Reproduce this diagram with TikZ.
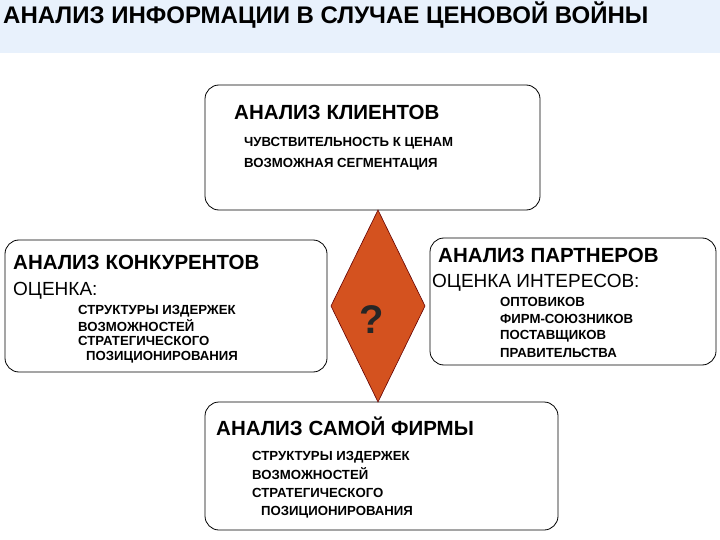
\documentclass[tikz,border=0pt]{standalone}
\usepackage{fontspec}
\setmainfont{Liberation Sans}
\definecolor{band}{HTML}{E8F1FC}
\definecolor{dia}{HTML}{D4521F}
\tikzset{
 box/.style={draw=black,line width=0.8pt,rounded corners=14pt,fill=white},
 head/.style={anchor=west,inner sep=0pt,font=\bfseries\fontsize{20.5}{20.5}\selectfont},
 sub/.style={anchor=west,inner sep=0pt,font=\fontsize{19}{19}\selectfont},
 item/.style={anchor=west,inner sep=0pt,font=\bfseries\fontsize{13.2}{13.2}\selectfont},
}
\begin{document}
\begin{tikzpicture}[x=1pt,y=-1pt]
\useasboundingbox (0,0) rectangle (720,540);
\fill[white] (0,0) rectangle (720,540);
\fill[band] (0,0) rectangle (720,53);
\node[anchor=west,inner sep=0pt,font=\bfseries\fontsize{24}{24}\selectfont] (title) at (3,15) {АНАЛИЗ ИНФОРМАЦИИ В СЛУЧАЕ ЦЕНОВОЙ ВОЙНЫ};
\draw[box] (205,85) rectangle (540,210);
\draw[box] (5,240) rectangle (327,372);
\draw[box] (430,238) rectangle (716,365);
\draw[box] (205,402) rectangle (558,530);
\filldraw[fill=dia,draw=black!60!red,line width=0.6pt] (378,210) -- (425,306) -- (378,402) -- (331,306) -- cycle;
\node[font=\bfseries\fontsize{40}{40}\selectfont,text=black!85] (qm) at (372,320) {?};
% top
\node[head] (h1) at (234,112) {АНАЛИЗ КЛИЕНТОВ};
\node[item] (t1) at (244,143) {ЧУВСТВИТЕЛЬНОСТЬ К ЦЕНАМ};
\node[item] (t2) at (244,164) {ВОЗМОЖНАЯ СЕГМЕНТАЦИЯ};
% left
\node[head] (h2) at (13,262) {АНАЛИЗ КОНКУРЕНТОВ};
\node[sub] (o2) at (13,291) {ОЦЕНКА:};
\node[item] (l1) at (78,311) {СТРУКТУРЫ ИЗДЕРЖЕК};
\node[item] (l2) at (78,326) {ВОЗМОЖНОСТЕЙ};
\node[item] (l3) at (78,341) {СТРАТЕГИЧЕСКОГО};
\node[item] (l4) at (86,357) {ПОЗИЦИОНИРОВАНИЯ};
% right
\node[head] (h3) at (438,255) {АНАЛИЗ ПАРТНЕРОВ};
\node[sub] (o3) at (432,283) {ОЦЕНКА ИНТЕРЕСОВ:};
\node[item] (r1) at (500,302) {ОПТОВИКОВ};
\node[item] (r2) at (500,319) {ФИРМ-СОЮЗНИКОВ};
\node[item] (r3) at (500,336) {ПОСТАВЩИКОВ};
\node[item] (r4) at (500,353) {ПРАВИТЕЛЬСТВА};
% bottom
\node[head] (h4) at (216,426) {АНАЛИЗ САМОЙ ФИРМЫ};
\node[item] (b1) at (252,457) {СТРУКТУРЫ ИЗДЕРЖЕК};
\node[item] (b2) at (252,474) {ВОЗМОЖНОСТЕЙ};
\node[item] (b3) at (252,493) {СТРАТЕГИЧЕСКОГО};
\node[item] (b4) at (261,512) {ПОЗИЦИОНИРОВАНИЯ};
\end{tikzpicture}
\end{document}
